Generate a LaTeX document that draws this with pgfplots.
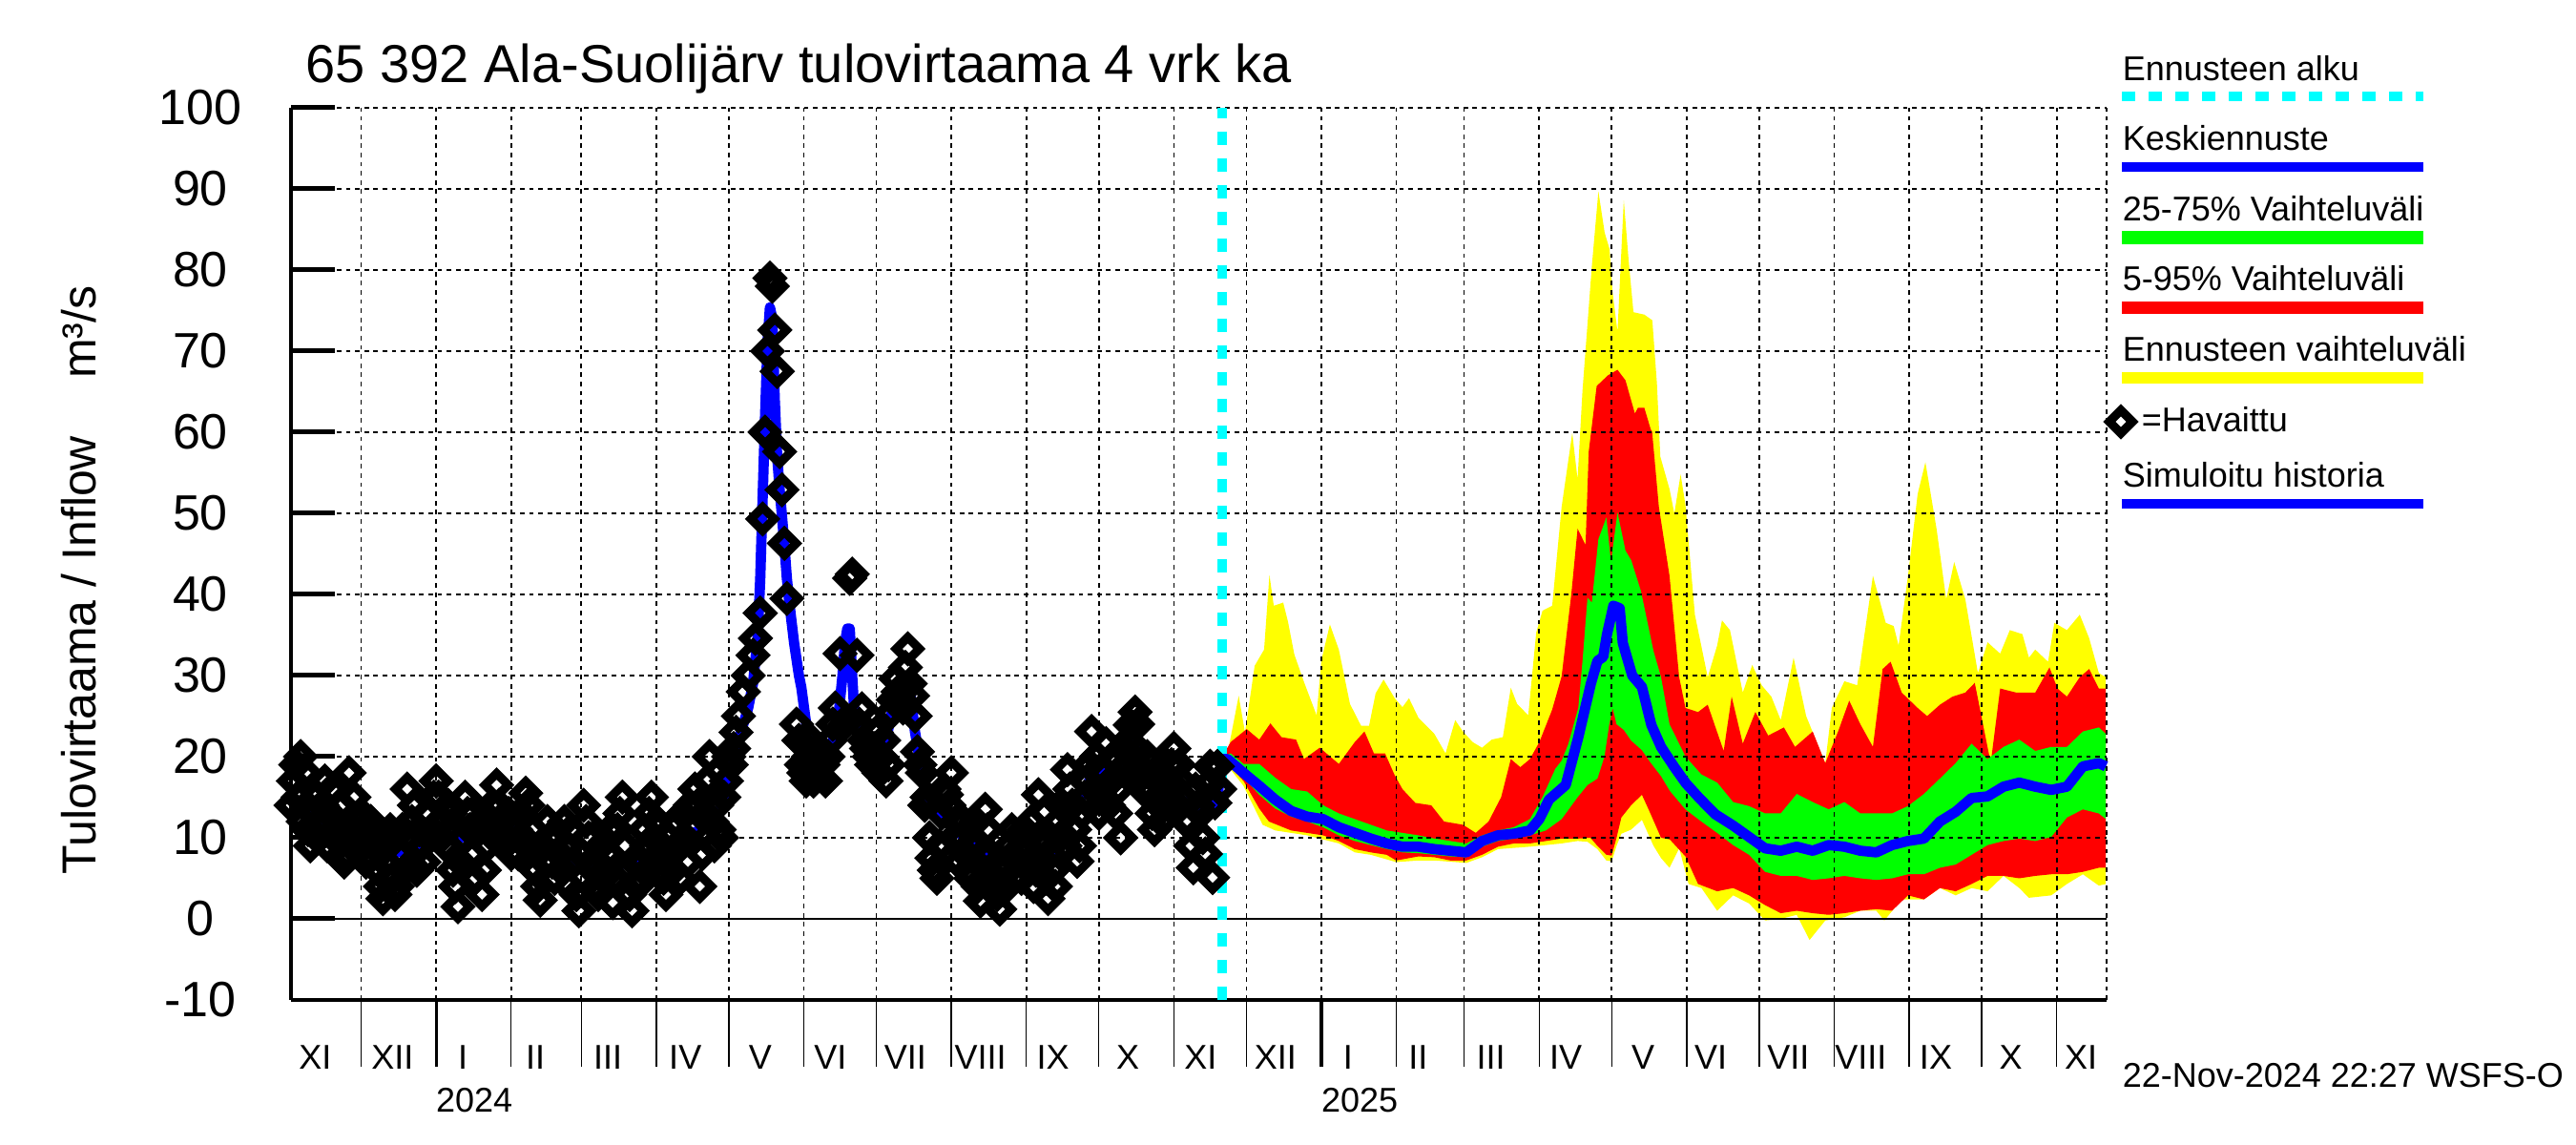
\documentclass[border=0pt]{standalone}
\usepackage{fontspec}
\setmainfont{Liberation Sans}
\usepackage{pgfplots}
\usepackage{pgfplotstable}
\pgfplotsset{compat=1.18}

\definecolor{bandyellow}{RGB}{255,255,0}
\definecolor{bandred}{RGB}{255,0,0}
\definecolor{bandgreen}{RGB}{0,255,0}
\definecolor{lineblue}{RGB}{0,0,255}
\definecolor{startcyan}{RGB}{0,255,255}

% days counted from 1 Jan 2024
\pgfplotstableread{
d v
-60 14
-59 17
-58 19
-57 15
-56 20
-55 12
-54 18
-53 11
-52 9
-51 13
-50 15
-49 10
-48 12
-47 14
-46 17
-45 9
-44 13
-43 16
-42 10
-41 12
-40 11
-39 14
-38 7
-37 8
-36 18
-35 11
-34 15
-33 10
-32 12
-31 13
-30 9
-29 7
-28 8
-27 12
-26 10
-25 9
-24 6
-23 4
-22 2.5
-21 7
-20 9
-19 11
-18 5
-17 3
-16 4
-15 8
-14 11
-13 6
-12 16
-11 10
-10 12
-9 14
-8 6
-7 11
-6 9
-5 7
-4 13
-3 10
-2 11
-1 15
0 17
1 15
2 10
3 12
4 9
5 14
6 13
7 6
8 4
9 1.5
10 7
11 10
12 15
13 13
14 11
15 8
16 5
17 11
18 12
19 3
20 6
21 9
22 12
23 14
24 10
25 16.5
26 14
27 12
28 9
29 10
30 13
31 8
32 12
33 11
34 8
35 13
36 10
37 15.5
38 14
39 9
40 11
41 6
42 4
43 2.3
44 9
45 7
46 12
47 10
48 7
49 5
50 10
51 8
52 6
53 12
54 9
55 4
56 11
57 7
58 3
59 1
60 8
61 14
62 12
63 10
64 7
65 6
66 4
67 3
68 9
69 5
70 6
71 8
72 11
73 2
74 5
75 11
76 13
77 15
78 9
79 6
80 3
81 1
82 7
83 4
84 5
85 7
86 11
87 9
88 13
89 15
90 10
91 12
92 8
93 6
94 5
95 3
96 10
97 8
98 6
99 12
100 9
101 5
102 13
103 10
104 7
105 14
106 11
107 16
108 14
109 4
110 8
111 13
112 17
113 20
114 12
115 9
116 14
117 11
118 10
119 15
120 17
121 20
122 19
123 21
124 23
125 25
127 28
129 30
131 32.5
132 34.6
134 37.7
135 49.3
136 60
137 70
138 79
139 78
140 72.6
141 67.5
142 57.6
143 52.9
144 46.3
145 39.5
149 24
150 22
151 19
152 18
153 17
154 20
155 22
156 17
157 18.5
158 21
159 20
160 19
161 17
162 20
163 22
164 24
165 26
167 32.7
169 24
171 42
172 42.5
174 32.5
175 24
176 25.9
177 22
178 21
179 20
180 19
181 21
182 23
183 18
184 20
185 22
186 17
187 19
188 25.4
189 27
190 29.6
191 28
192 27
193 26
194 31
195 33.3
196 29
197 27.5
198 25
199 20.6
200 19
201 18
202 14
203 15
204 10
205 7.5
206 6
207 5
208 9
209 13
210 16
211 15.3
212 14
213 18
214 10
215 12
216 7
217 10
218 12
219 8
220 6
221 5
222 9
223 12
224 4
225 2.2
226 8
227 13.5
228 11
229 8
230 5
231 4
232 3
233 1.2
234 7
235 6
236 4
237 9
238 11
239 5
240 7
241 8.6
242 5
243 11
244 9
245 7
246 12
247 4
248 6
249 15.3
250 10
251 9
252 5
253 2.5
254 8
255 6
256 4
257 12
258 14
259 10.4
260 9
261 18.4
262 16
263 14
264 11
265 7.1
266 9
267 13
268 15
269 17
270 19
271 23.1
272 16
273 20
274 13
275 15
276 18
277 21.6
278 14
279 17
280 20
281 13
282 16
283 10
284 21
285 19
286 22
287 23.9
288 18
289 25.5
290 24
291 20.6
292 16
293 18
294 20
295 16
296 13
297 11
298 17
299 14
300 12
301 13.9
302 16
303 17
304 19
305 21
306 14
307 19
308 17
309 15
310 12
311 12
312 9
313 6.3
314 16
315 14
316 13
317 10
318 8
319 16.5
320 18.8
321 5.1
322 14.3
323 18.8
324 16
}\observed

\pgfplotstableread{
d v
-60 14
-58 14.5
-55 13.5
-52 12.5
-48 12
-44 11.5
-40 11
-36 10.5
-32 10
-28 9.5
-24 9
-20 8.5
-16 8.2
-12 8.5
-8 9
-4 9.5
0 10
5 10
10 10
15 10.5
20 11
24 12.5
27 12.5
30 11.8
35 10
39 8.5
45 8
50 7.7
55 7
60 6.5
65 6.3
70 6.2
73 6.3
77 6.8
80 7.1
84 7
87 6.7
91 7.5
95 8.5
100 9.8
104 10.3
108 10.8
112 11.5
115.5 12.5
118 14
120 17
121 18
123 20
125 22
127 24
129 26
131 29
133 35
134 42
135 52
136 62
137 71
138 75.4
139 74
140 64
141 57
142 53
143 49.6
144 46
145 42
146 39
147 36.5
148 34
150 30
151 28.5
153 24
155 21
157 19.5
160 19.5
163 21
166 24
168 30
169 34
170 35.8
171 35.8
172 30
173 25
175 22
178 21
181 20
184 20
186 22
188 25
190 27
192 27.5
194 28.5
196 28
198 23
200 19.5
202 16.5
205 14
210 12.5
215 11
220 9.5
225 8
230 7
235 7.5
240 9.5
243 11.5
247 9
250 7
255 8
260 11
265 14
270 17
275 18
280 18.5
285 19.6
289 21.6
292 20
295 17
300 14.5
305 14
310 14.5
315 13.5
320 13
323 15
325 19.7
}\simulated

\pgfplotstableread{
d v
325 20
327.2 20.5
328.5 22.4
331.8 27.5
334.4 23
338.4 31.2
342.3 33.2
344.5 42.4
346.3 38.6
350.2 39
352.2 36.6
354.8 32.6
358.8 29.2
364 25.1
366 31.9
369.5 36.3
373.2 33.2
377.8 26.5
382.4 23.8
385.7 23.8
388.4 27.8
391.7 29.5
396.3 27.2
399.5 26.1
402.2 27.2
406.1 24.8
412.7 22.8
417.3 20.4
421.3 24.5
424.5 23.1
428.5 21.8
432.4 21.1
436.4 22.1
441 22.4
444.3 28.5
446.9 26.5
451.5 25.1
454.8 35.3
457.4 38
461.4 38.6
465.3 50.8
469.7 59.9
471.9 54.2
473.9 65
477.8 80.5
480.5 89.7
483.1 84.6
485.1 82.6
486.4 77.2
488.4 72.4
491 88.6
493 81.2
495 74.8
499.5 74.5
502.8 73.8
504.7 66
506.1 57
509.9 53
511.9 50
514.5 54.8
516.5 51
520.4 37.5
525.7 29.8
529.6 33.7
531.6 36.8
534.9 35.6
540.2 27.9
544.1 31.3
548 28.8
552 27.4
555.9 24.5
561.2 32.2
566.4 25
574.3 19.2
577 26
582.2 29.3
587.5 28.8
594 42.3
599.3 36.5
602.6 36.1
604.6 33.7
608.5 42.3
612.5 52.4
615.7 56.3
620.3 48.1
624.3 39.4
627.6 44
632.2 39.4
637.4 30.3
641.4 34.1
646.6 32.7
650.6 35.6
655.8 35.1
658.5 32.2
661.1 33.2
666.4 31.7
669 36.5
674.2 35.6
679.5 37.5
683.4 34.6
687.4 30.3
690.3 29.8
}\fmax

\pgfplotstableread{
d v
325 20
328.5 21.8
335.1 23.4
340.3 22.1
344.9 24.1
349.5 22.4
355.5 22.1
358.8 19.7
365.3 21.1
373.2 19.1
379.8 21.8
383.8 23.1
387.7 20.4
392.3 20.4
396.3 17.7
399.5 16
404.8 14.3
411.4 14
416.7 12
424.5 11.6
429.8 10.6
435.1 12
440.3 15
444.3 19.7
448.2 18.7
452.2 19.7
456.1 21.8
461.4 25.8
465.3 29.9
469.3 40
471.9 48.1
475.2 46.1
476.5 57.6
479.8 65.7
484.4 67
488.4 67.7
491.7 66.4
495.6 62.3
496.8 63
499.5 63
502.2 60.3
502.7 60.1
505.5 50.8
509.9 42.3
513.9 29.8
516.5 26
521.7 25.5
525.7 26.4
532.3 20.7
535.6 27.4
540.2 21.6
545.4 25.5
550.7 22.6
557.2 23.6
561.8 21.2
569.1 23.1
574.3 19.2
579.6 23.1
584.2 26.9
588.8 24
594 21.2
598 30.8
601.3 31.7
605.9 27.9
612.5 26
616.4 25
621.7 26.4
626.9 27.4
632.2 27.9
636.1 29.1
642.7 19.2
646.6 28.4
653.2 27.9
661.1 27.9
667 31
670.3 28.4
674.2 27.4
679.5 29.8
683.4 30.8
687.4 28.4
690.3 28.4
}\fhigh

\pgfplotstableread{
d v
325 20
328.5 20.4
333.8 19.1
340.3 19.1
346.9 17.4
353.5 16
360.1 15.7
366.7 14
373.2 13
379.8 12.3
386.4 11.6
393 10.9
399.5 10.6
406.1 10.3
412.7 9.9
419.3 9.6
425.9 9.3
432.4 10.3
439 10.9
445.6 11.3
452.2 12.3
457.4 15
462.7 18.5
465.3 19.5
468 21.5
472.2 26
474 32
476 39.6
477.8 39
480.5 46.8
483.8 49.5
485.7 44
488.4 50.1
491.7 45.4
494.1 44.2
498.1 40.4
503.3 33
506.4 29.8
509.9 24
516.5 20
523.1 17.8
529.6 16.8
536.2 14.4
542.8 13.9
549.4 13
555.9 13
562.5 15.4
569.1 14.4
575.7 13.5
582.2 14.4
588.8 13
595.4 13
601.9 13
608.5 13.9
615.1 15.4
621.7 17.3
628.2 19.2
634.8 21.6
641.4 19.7
648 21.2
654.5 22.1
661.1 20.7
667.7 21.2
674.2 21.2
680.8 23.1
687.4 23.6
690.3 22.8
}\fupper

\pgfplotstableread{
d v
325 19.7
327.2 19.7
333.8 18
340.3 16.4
346.9 14.7
353.5 13.3
360.1 12.6
366.7 12.3
373.2 11.3
379.8 10.6
386.4 9.9
393 9.3
399.5 8.9
406.1 8.9
412.7 8.6
419.3 8.4
425.9 8.2
432.4 9.6
439 10.3
445.6 10.5
452.2 10.9
456.1 12.3
460.1 14.7
467 16.5
472.2 22.4
477.4 29
480.1 31.8
482.5 32.3
484 35
486.7 38.6
489.3 38.3
490.6 34
494.5 30
498.5 28.6
502.4 23.9
506.4 21.2
511.7 18.8
516.7 16.7
522.2 14.9
528.8 12.9
536.2 11.5
542.8 10.1
549.4 8.7
555.9 8.4
562.5 8.9
569.1 8.4
575.7 9.1
582.2 8.9
588.8 8.4
595.4 8.2
601.9 9.1
608.5 9.6
615.1 9.9
621.7 12
628.2 13.2
634.8 14.9
641.4 15.1
648 16.3
654.5 16.8
661.1 16.3
667.7 15.9
674.2 16.3
680.8 18.8
687.4 19.2
690.3 18.8
}\fmedian

\pgfplotstableread{
d v
325 19.7
328.5 19.4
333.8 17.4
340.3 15.3
346.9 13.6
353.5 12.6
360.1 12
366.7 11.3
373.2 10.3
379.8 9.6
386.4 9.1
393 8.6
399.5 8.2
406.1 8.1
412.7 7.9
419.3 7.7
425.9 7.6
432.4 8.9
439 9.6
445.6 9.9
452.2 10.3
458.8 10.9
465.3 12.3
471.9 15
476 16.5
480.1 17.3
483 20
485 24
486.4 26
488 24
491 23.3
494 22
498.5 20.8
502 19.3
506.4 17.6
510 15.8
516.5 13.5
523.1 12
529.6 10.6
536.2 9.1
542.8 7.9
549.4 5.8
555.9 5.3
562.5 5.3
569.1 4.8
575.7 5
582.2 5.3
588.8 5
595.4 4.8
601.9 5
608.5 5.5
615.1 5.5
621.7 6.3
628.2 6.7
634.8 7.9
641.4 9.1
648 9.6
654.5 9.9
661.1 9.6
667.7 10.1
674.2 12.5
680.8 13.5
687.4 13
690.3 12.3
}\flower

\pgfplotstableread{
d v
325 19.7
328.5 18.7
333.8 17
340.3 13.6
344.3 12
353.5 10.9
360.1 10.6
366.7 10.3
373.2 9.6
379.8 8.6
386.4 8.2
393 7.9
396.9 7.2
406.1 7.7
412.7 7.6
419.3 7.2
425.9 7.2
432.4 7.9
439 8.9
445.6 9.3
452.2 9.3
458.8 9.6
465.3 9.9
471.9 9.9
477.2 10
480.1 9
483.8 7.9
486 7.8
488 10
490 12.5
494 14
498.5 15.3
502 13
506.4 10
510 9.8
516.5 7.7
521.7 4.3
529.6 3.4
536.2 3.8
542.8 2.9
549.4 1.7
555.9 0.7
562.5 1
569.1 0.7
575.7 0.5
582.2 0.7
588.8 1
595.4 1.2
601.9 1
608.5 2.9
615.1 2.4
621.7 3.8
628.2 3.4
634.8 4.3
641.4 5.3
648 5.3
654.5 5
661.1 5.3
667.7 5.5
674.2 5.5
680.8 5.8
687.4 6.3
690.3 6.3
}\flow

\pgfplotstableread{
d v
325 19.7
328.5 18.4
333.8 16.4
341.7 11.6
346.9 10.9
360.1 10.3
373.2 9.3
379.8 8.2
386.4 7.9
396.9 7
406.1 7.2
412.7 7.2
425.9 6.9
432.4 7.6
439 8.6
452.2 8.9
465.3 9.3
471.9 9.6
476 9.5
480.1 8.6
483.8 7.2
486 7.1
488 9
490 10.5
494 11
498.5 12.2
503.3 9
506.4 7.5
509.9 6.3
513.9 8.7
517.8 4.3
523.1 3.8
529.6 1
536.2 2.9
542.8 1.9
549.4 -0.2
555.9 0
562.5 0.5
567.8 -2.6
574.3 -0.2
582.2 0.2
588.8 1
595.4 1
598.7 -0.2
605.9 2.4
615.1 2.4
621.7 3.8
628.2 2.9
634.8 3.8
641.4 3.4
648 5.3
654.5 3.8
658.5 2.6
667.7 2.9
674.2 4.3
680.8 5.5
687.4 4.1
690.3 4.3
}\fmin

% closed outlines of the three bands: upper edge forward, lower edge backward
\pgfplotstablesort[sort key=d, sort cmp={float >}]{\fminrev}{\fmin}
\pgfplotstablesort[sort key=d, sort cmp={float >}]{\flowrev}{\flow}
\pgfplotstablesort[sort key=d, sort cmp={float >}]{\flowerrev}{\flower}
\pgfplotstablevertcat{\fmax}{\fminrev}
\pgfplotstablevertcat{\fhigh}{\flowrev}
\pgfplotstablevertcat{\fupper}{\flowerrev}

\tikzset{gridline/.style={black, line width=0.4pt, dash pattern=on 1.2pt off 1.2pt}}

\begin{document}
\begin{tikzpicture}[font=\fontsize{9}{11}\selectfont]
\useasboundingbox (0,0) rectangle (675pt,300pt);
\begin{axis}[
  at={(76.25pt,38pt)}, anchor=south west,
  width=475.75pt, height=233.75pt, scale only axis,
  xmin=-60, xmax=690.6, ymin=-10, ymax=100,
  axis x line*=bottom, axis y line*=left,
  axis line style={line width=1.1pt, black},
  xtick=\empty,
  ytick={-10,0,10,20,30,40,50,60,70,80,90,100},
  yticklabels={-10,0,10,20,30,40,50,60,70,80,90,100},
  tick style={draw=none},
  yticklabel style={font=\fontsize{13}{15}\selectfont, anchor=center, xshift=-23.75pt},
  clip=false,
]
\addplot[fill=bandyellow, draw=none] table {\fmax};
\addplot[fill=bandred, draw=none] table {\fhigh};
\addplot[fill=bandgreen, draw=none] table {\fupper};

% grid above the bands
\pgfplotsinvokeforeach{10,20,30,40,50,60,70,80,90,100}{
  \draw[gridline] (axis cs:-60,#1) -- (axis cs:690.6,#1);
}
\pgfplotsinvokeforeach{-31,0,31,60,91,121,152,182,213,244,274,305,335,366,397,425,456,486,517,547,578,609,639,670,690.6}{
  \draw[gridline] (axis cs:#1,-10) -- (axis cs:#1,100);
}
\draw[black, line width=0.4pt] (axis cs:-60,0) -- (axis cs:690.6,0);

\addplot[startcyan, line width=2.4pt, dash pattern=on 3.5pt off 3.5pt] coordinates {(325,-10) (325,100)};
\addplot[lineblue, line width=2.7pt, line join=round] table {\simulated};
\addplot[lineblue, line width=2.7pt, line join=round] table {\fmedian};
\addplot[only marks, mark=square, mark size=2.15pt,
  mark options={rotate=45, line width=2.3pt, line join=miter, draw=black, fill=none}] table {\observed};

% y ticks
\pgfplotsinvokeforeach{0,10,20,30,40,50,60,70,80,90,100}{
  \draw[line width=1.25pt] (axis cs:-60,#1) -- ++(11.5pt,0pt);
}
% month and year ticks below the axis
\pgfplotsinvokeforeach{-31,31,60,91,121,152,182,213,244,274,305,335,397,425,456,486,517,547,578,609,639,670}{
  \draw[line width=0.35pt] (axis cs:#1,-10) -- ++(0pt,-17.5pt);
}
\pgfplotsinvokeforeach{0,366}{
  \draw[line width=0.8pt] (axis cs:#1,-10) -- ++(0pt,-17.5pt);
}
\begin{scope}[every node/.style={anchor=base, yshift=-18pt}]
\node at (axis cs:-50,-10) {XI};
\node at (axis cs:-18,-10) {XII};
\node at (axis cs:11,-10) {I};
\node at (axis cs:41,-10) {II};
\node at (axis cs:71,-10) {III};
\node at (axis cs:103,-10) {IV};
\node at (axis cs:134,-10) {V};
\node at (axis cs:163,-10) {VI};
\node at (axis cs:194,-10) {VII};
\node at (axis cs:225,-10) {VIII};
\node at (axis cs:255,-10) {IX};
\node at (axis cs:286,-10) {X};
\node at (axis cs:316,-10) {XI};
\node at (axis cs:347,-10) {XII};
\node at (axis cs:377,-10) {I};
\node at (axis cs:406,-10) {II};
\node at (axis cs:436,-10) {III};
\node at (axis cs:467,-10) {IV};
\node at (axis cs:499,-10) {V};
\node at (axis cs:527,-10) {VI};
\node at (axis cs:559,-10) {VII};
\node at (axis cs:589,-10) {VIII};
\node at (axis cs:620,-10) {IX};
\node at (axis cs:651,-10) {X};
\node at (axis cs:680,-10) {XI};
\end{scope}
\node[anchor=base, yshift=-29.25pt] at (axis cs:15.8,-10) {2024};
\node[anchor=base, yshift=-29.25pt] at (axis cs:381.8,-10) {2025};
\end{axis}

\node[anchor=base west, inner sep=0pt, font=\fontsize{14}{16}\selectfont] at (80pt,278.25pt) {65 392 Ala-Suolijärv tulovirtaama 4 vrk ka};
\node[anchor=base, inner sep=0pt, rotate=90, font=\fontsize{12.5}{14}\selectfont] at (25pt,148pt) {Tulovirtaama / Inflow\hspace{15pt}m³/s};

% legend
\begin{scope}[every node/.style={anchor=base west, inner sep=0pt}]
\node at (556pt,278.75pt) {Ennusteen alku};
\draw[startcyan, line width=2.5pt, dash pattern=on 3.5pt off 3.5pt] (556pt,274.75pt) -- (635pt,274.75pt);
\node at (556pt,260.5pt) {Keskiennuste};
\draw[lineblue, line width=2.6pt] (556pt,256.25pt) -- (635pt,256.25pt);
\node at (556pt,242pt) {25-75\% Vaihteluväli};
\draw[bandgreen, line width=3.4pt] (556pt,237.75pt) -- (635pt,237.75pt);
\node at (556pt,223.75pt) {5-95\% Vaihteluväli};
\draw[bandred, line width=3.25pt] (556pt,219.25pt) -- (635pt,219.25pt);
\node at (556pt,205.25pt) {Ennusteen vaihteluväli};
\draw[bandyellow, line width=3pt] (556pt,201pt) -- (635pt,201pt);
\draw[black, line width=2.3pt, line join=miter] (555.75pt,192.55pt) -- (558.8pt,189.5pt) -- (555.75pt,186.45pt) -- (552.7pt,189.5pt) -- cycle;
\node at (561pt,186.75pt) {=Havaittu};
\node at (556pt,172.25pt) {Simuloitu historia};
\draw[lineblue, line width=2.6pt] (556pt,168pt) -- (635pt,168pt);
\node at (556pt,15pt) {22-Nov-2024 22:27 WSFS-O};
\end{scope}
\end{tikzpicture}
\end{document}
